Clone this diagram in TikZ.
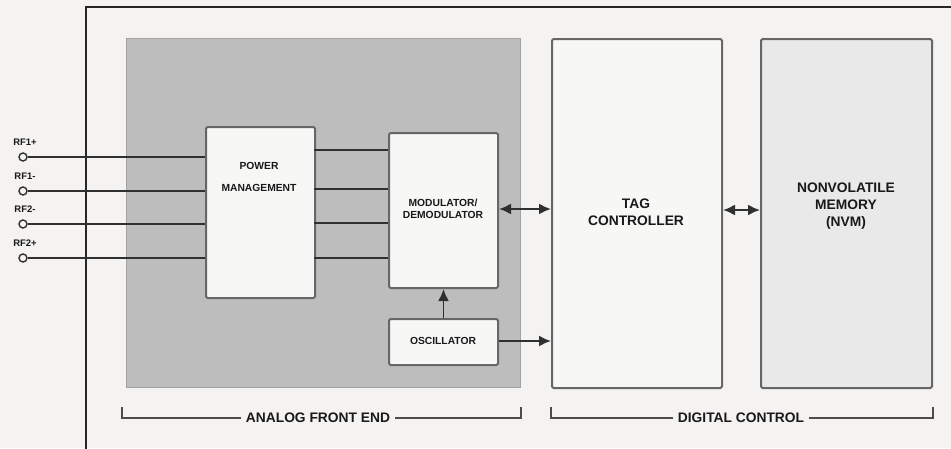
\documentclass[tikz,border=0pt]{standalone}
\usepackage{fontspec}
\setmainfont{Liberation Sans}
\usetikzlibrary{arrows.meta}
\definecolor{bgc}{HTML}{F5F3F2}
\definecolor{afe}{HTML}{BDBDBD}
\definecolor{boxc}{HTML}{F7F7F6}
\definecolor{nvmc}{HTML}{E9E9E9}
\definecolor{edgec}{HTML}{666666}
\definecolor{wirec}{HTML}{303030}
\tikzset{
  blockbox/.style={draw=edgec, line width=2pt, rounded corners=1.5pt, inner sep=0pt},
  wire/.style={draw=wirec, line width=1.9pt},
  arr/.style={wire, -{Latex[length=12pt,width=11pt]}},
  darr/.style={wire, {Latex[length=12pt,width=11pt]}-{Latex[length=12pt,width=11pt]}},
  lbl/.style={font=\bfseries\fontsize{10.3}{12.5}\selectfont, text=black!90, align=center},
  biglbl/.style={font=\bfseries\fontsize{13.8}{16.8}\selectfont, text=black!90, align=center},
  brk/.style={draw=black!70, line width=1.6pt},
  pin/.style={circle, draw=wirec, line width=1.4pt, fill=bgc, minimum size=8pt, inner sep=0pt},
}
\begin{document}
\begin{tikzpicture}[x=1pt,y=-1pt]
\path[use as bounding box] (0,0) rectangle (951,448);
\clip (0,0) rectangle (951,448);
\fill[bgc] (0,0) rectangle (951,448);
% outer frame
\draw[black!85, line width=1.8pt] (86,470) -- (86,7) -- (970,7);
% analog front end background
\node[blockbox, fill=afe, draw=afe!85!black, line width=1.2pt, rounded corners=0pt, minimum width=394pt, minimum height=349pt, anchor=north west] (afe) at (126,38) {};
% blocks
\node[blockbox, fill=boxc, minimum width=109pt, minimum height=171pt, anchor=north west] (pm) at (205,126) {};
\node[lbl, anchor=center] (pmt1) at (259,166) {POWER};
\node[lbl, anchor=center] (pmt2) at (259,188) {MANAGEMENT};
\node[blockbox, fill=boxc, minimum width=109pt, minimum height=155pt, anchor=north west] (mod) at (388,132) {};
\node[lbl] (modt) at (443,209) {MODULATOR/\\DEMODULATOR};
\node[blockbox, fill=boxc, minimum width=109pt, minimum height=46pt, anchor=north west] (osc) at (388,318) {};
\node[lbl] (osct) at (443,341) {OSCILLATOR};
\node[blockbox, fill=boxc, minimum width=170pt, minimum height=349pt, anchor=north west] (tag) at (551,38) {};
\node[biglbl] (tagt) at (636,212) {TAG\\CONTROLLER};
\node[blockbox, fill=nvmc, minimum width=171pt, minimum height=349pt, anchor=north west] (nvm) at (760,38) {};
\node[biglbl] (nvmt) at (846,206) {NONVOLATILE\\MEMORY\\(NVM)};
% RF pins
\foreach \n/\t/\yy in {a/RF1+/157, b/RF1-/191, c/RF2-/224, d/RF2+/258}{
  \node[pin] (p\n) at (23,\yy) {};
  \node[lbl, font=\bfseries\fontsize{9.5}{10}\selectfont] (l\n) at (25,\yy-15) {\t};
  \coordinate (q\n) at (205,\yy);
  \draw[wire] (p\n) -- (q\n);
}
% power -> modulator wires
\foreach \yy in {150,189,223,258}{
  \draw[wire] (314,\yy) -- (388,\yy);
}
% arrows
\draw[darr] (mod.east |- 0,209) -- (tag.west |- 0,209);
\draw[arr] (osc.north) -- (mod.south);
\draw[arr] (osc.east |- 0,341) -- (tag.west |- 0,341);
\draw[darr] (tag.east |- 0,210) -- (nvm.west |- 0,210);
% brackets
\coordinate (b1l) at (122,418);
\coordinate (b1r) at (521,418);
\node[biglbl, fill=bgc, inner xsep=5pt] (afel) at (318,418) {ANALOG FRONT END};
\draw[brk] (122,407) -- (b1l) -- (afel.west);
\draw[brk] (afel.east) -- (b1r) -- (521,407);
\node[biglbl, fill=bgc, inner xsep=5pt] (dcl) at (741,418) {DIGITAL CONTROL};
\draw[brk] (551,407) -- (551,418) -- (dcl.west);
\draw[brk] (dcl.east) -- (933,418) -- (933,407);
\end{tikzpicture}
\end{document}
